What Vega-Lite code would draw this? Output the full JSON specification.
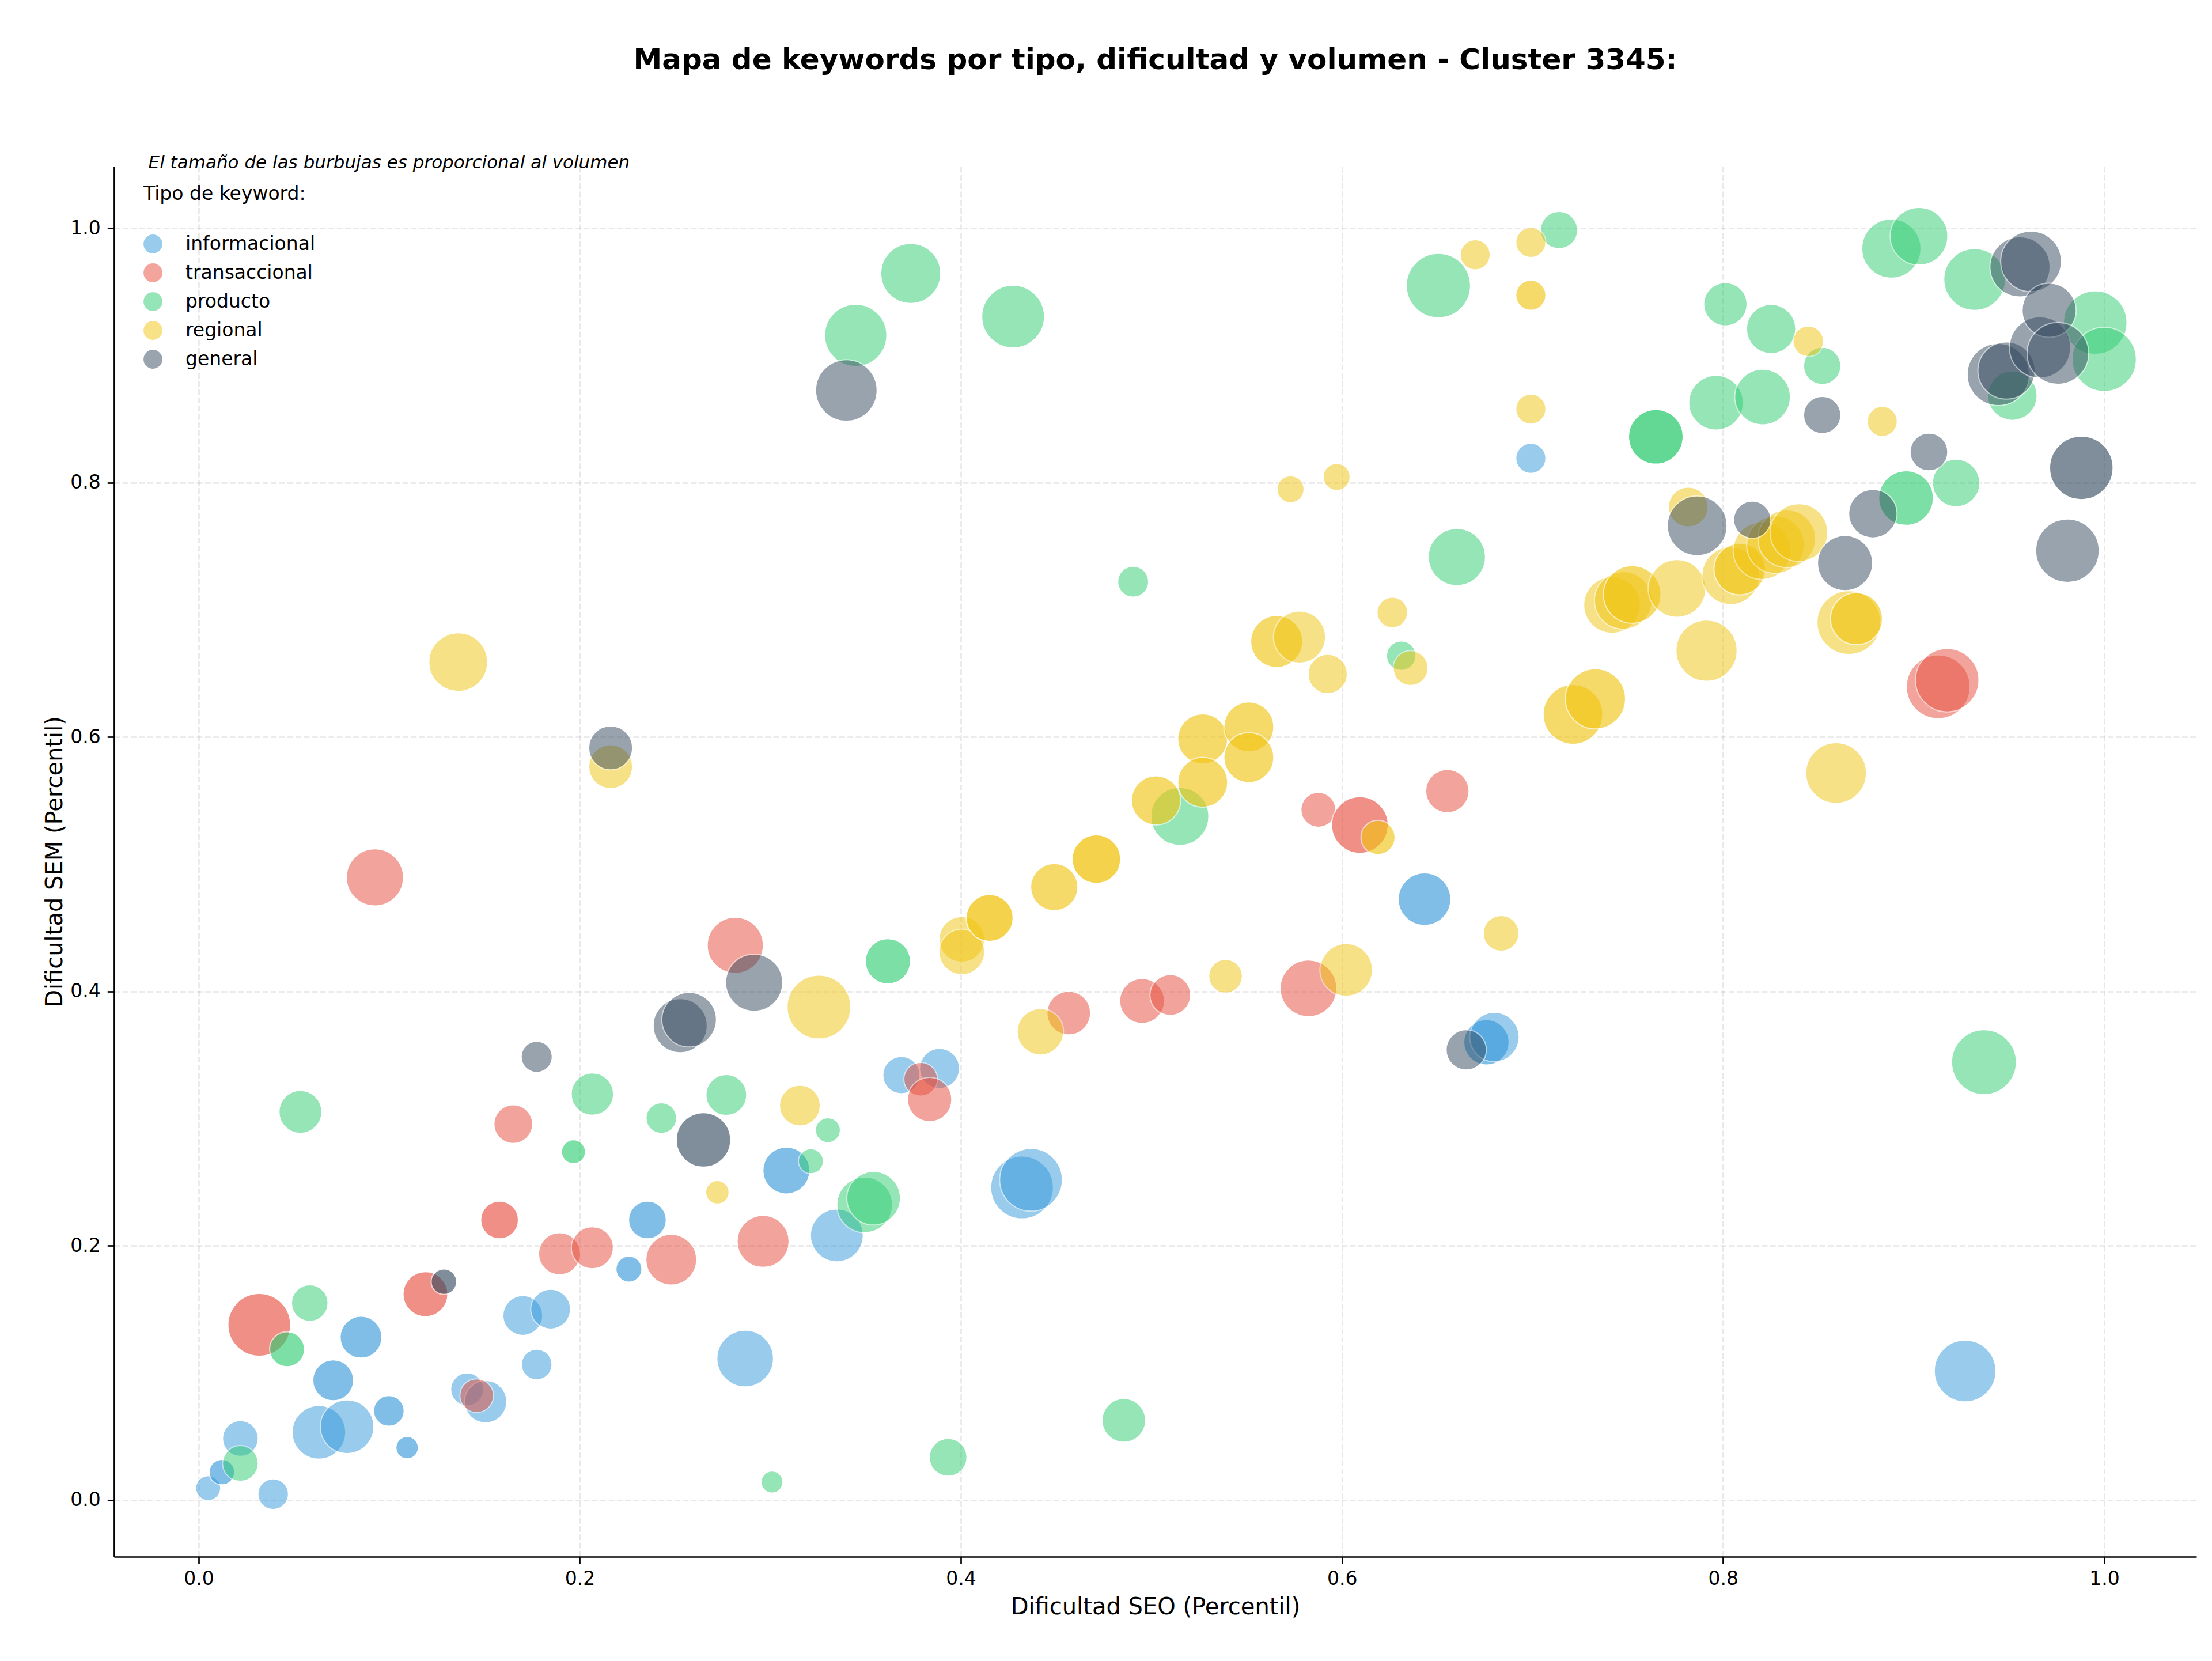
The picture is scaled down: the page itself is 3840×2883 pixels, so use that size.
{
  "$schema": "https://vega.github.io/schema/vega-lite/v6.json",
  "width": 3615,
  "height": 2413,
  "autosize": {"type": "none"},
  "padding": {"left": 198, "top": 289, "right": 27, "bottom": 181},
  "background": "white",
  "title": {
    "text": "Mapa de keywords por tipo, dificultad y volumen - Cluster 3345:",
    "font": "DejaVu Sans", "fontSize": 50, "fontWeight": "bold", "color": "#000000",
    "anchor": "middle", "baseline": "alphabetic", "offset": 97
  },
  "config": {
    "view": {"stroke": null},
    "axis": {
      "domainColor": "#000000", "domainWidth": 2.7,
      "tickColor": "#000000", "tickWidth": 2.7, "tickSize": 11.7,
      "labelFont": "DejaVu Sans", "labelFontSize": 33, "labelColor": "#000000", "labelPadding": 11,
      "labelFlush": false, "labelOverlap": false,
      "titleFont": "DejaVu Sans", "titleFontSize": 40, "titleFontWeight": "normal", "titleColor": "#000000",
      "grid": true, "gridColor": "#b0b0b0", "gridOpacity": 0.3, "gridDash": [10, 4.3], "gridWidth": 2.7
    },
    "axisX": {"titlePadding": 12},
    "axisY": {"titlePadding": 6, "labelPadding": 12}
  },
  "layer": [
    {
      "data": {"values": [
        {"seo":0.005,"sem":0.0095,"tipo":"informacional","vol":157,"n":1},
        {"seo":0.0122,"sem":0.0221,"tipo":"informacional","vol":164,"n":2},
        {"seo":0.0219,"sem":0.0486,"tipo":"informacional","vol":321,"n":1},
        {"seo":0.0391,"sem":0.0048,"tipo":"informacional","vol":236,"n":1},
        {"seo":0.0631,"sem":0.0534,"tipo":"informacional","vol":722,"n":1},
        {"seo":0.0779,"sem":0.0578,"tipo":"informacional","vol":722,"n":1},
        {"seo":0.0706,"sem":0.0943,"tipo":"informacional","vol":419,"n":2},
        {"seo":0.0852,"sem":0.1282,"tipo":"informacional","vol":440,"n":2},
        {"seo":0.0998,"sem":0.0702,"tipo":"informacional","vol":236,"n":2},
        {"seo":0.1094,"sem":0.0413,"tipo":"informacional","vol":127,"n":2},
        {"seo":0.1409,"sem":0.0872,"tipo":"informacional","vol":273,"n":1},
        {"seo":0.1506,"sem":0.0775,"tipo":"informacional","vol":451,"n":1},
        {"seo":0.1701,"sem":0.1452,"tipo":"informacional","vol":398,"n":1},
        {"seo":0.1847,"sem":0.1502,"tipo":"informacional","vol":398,"n":1},
        {"seo":0.1774,"sem":0.1067,"tipo":"informacional","vol":236,"n":1},
        {"seo":0.2258,"sem":0.1817,"tipo":"informacional","vol":170,"n":2},
        {"seo":0.2355,"sem":0.2203,"tipo":"informacional","vol":358,"n":2},
        {"seo":0.2868,"sem":0.1114,"tipo":"informacional","vol":806,"n":1},
        {"seo":0.3084,"sem":0.2592,"tipo":"informacional","vol":554,"n":2},
        {"seo":0.3349,"sem":0.2082,"tipo":"informacional","vol":701,"n":1},
        {"seo":0.3688,"sem":0.3342,"tipo":"informacional","vol":349,"n":1},
        {"seo":0.3888,"sem":0.3394,"tipo":"informacional","vol":404,"n":1},
        {"seo":0.4321,"sem":0.2459,"tipo":"informacional","vol":990,"n":1},
        {"seo":0.4368,"sem":0.2519,"tipo":"informacional","vol":990,"n":1},
        {"seo":0.6433,"sem":0.4725,"tipo":"informacional","vol":694,"n":2},
        {"seo":0.6758,"sem":0.360,"tipo":"informacional","vol":518,"n":2},
        {"seo":0.680,"sem":0.3641,"tipo":"informacional","vol":616,"n":1},
        {"seo":0.6991,"sem":0.8191,"tipo":"informacional","vol":228,"n":1},
        {"seo":0.927,"sem":0.1016,"tipo":"informacional","vol":958,"n":1},

        {"seo":0.0318,"sem":0.1379,"tipo":"transaccional","vol":990,"n":2},
        {"seo":0.1190,"sem":0.1620,"tipo":"transaccional","vol":507,"n":2},
        {"seo":0.1579,"sem":0.2203,"tipo":"transaccional","vol":358,"n":2},
        {"seo":0.1651,"sem":0.2957,"tipo":"transaccional","vol":378,"n":1},
        {"seo":0.1459,"sem":0.0822,"tipo":"transaccional","vol":285,"n":1},
        {"seo":0.1894,"sem":0.1938,"tipo":"transaccional","vol":445,"n":1},
        {"seo":0.2066,"sem":0.1985,"tipo":"transaccional","vol":445,"n":1},
        {"seo":0.2480,"sem":0.1891,"tipo":"transaccional","vol":649,"n":1},
        {"seo":0.2962,"sem":0.2035,"tipo":"transaccional","vol":681,"n":1},
        {"seo":0.0925,"sem":0.4896,"tipo":"transaccional","vol":821,"n":1},
        {"seo":0.2816,"sem":0.4363,"tipo":"transaccional","vol":792,"n":1},
        {"seo":0.3789,"sem":0.3310,"tipo":"transaccional","vol":285,"n":1},
        {"seo":0.3836,"sem":0.315,"tipo":"transaccional","vol":495,"n":1},
        {"seo":0.4566,"sem":0.3830,"tipo":"transaccional","vol":480,"n":1},
        {"seo":0.4951,"sem":0.3925,"tipo":"transaccional","vol":507,"n":1},
        {"seo":0.5099,"sem":0.3972,"tipo":"transaccional","vol":419,"n":1},
        {"seo":0.5824,"sem":0.4024,"tipo":"transaccional","vol":806,"n":1},
        {"seo":0.5876,"sem":0.5428,"tipo":"transaccional","vol":307,"n":1},
        {"seo":0.6094,"sem":0.5308,"tipo":"transaccional","vol":806,"n":2},
        {"seo":0.6553,"sem":0.5575,"tipo":"transaccional","vol":473,"n":1},
        {"seo":0.9129,"sem":0.6395,"tipo":"transaccional","vol":1023,"n":1},
        {"seo":0.9176,"sem":0.6447,"tipo":"transaccional","vol":1014,"n":1},

        {"seo":0.0219,"sem":0.0290,"tipo":"producto","vol":321,"n":1},
        {"seo":0.0464,"sem":0.1187,"tipo":"producto","vol":307,"n":2},
        {"seo":0.0583,"sem":0.1550,"tipo":"producto","vol":336,"n":1},
        {"seo":0.0534,"sem":0.3053,"tipo":"producto","vol":462,"n":1},
        {"seo":0.1967,"sem":0.2739,"tipo":"producto","vol":145,"n":2},
        {"seo":0.2066,"sem":0.3193,"tipo":"producto","vol":451,"n":1},
        {"seo":0.2428,"sem":0.3004,"tipo":"producto","vol":236,"n":1},
        {"seo":0.2769,"sem":0.3186,"tipo":"producto","vol":419,"n":1},
        {"seo":0.3009,"sem":0.0143,"tipo":"producto","vol":121,"n":1},
        {"seo":0.3213,"sem":0.2665,"tipo":"producto","vol":157,"n":1},
        {"seo":0.3302,"sem":0.2909,"tipo":"producto","vol":157,"n":1},
        {"seo":0.3495,"sem":0.2322,"tipo":"producto","vol":778,"n":1},
        {"seo":0.3542,"sem":0.2374,"tipo":"producto","vol":722,"n":1},
        {"seo":0.3617,"sem":0.4237,"tipo":"producto","vol":515,"n":2},
        {"seo":0.3933,"sem":0.0337,"tipo":"producto","vol":358,"n":1},
        {"seo":0.4855,"sem":0.0628,"tipo":"producto","vol":480,"n":1},
        {"seo":0.3448,"sem":0.9158,"tipo":"producto","vol":974,"n":1},
        {"seo":0.3737,"sem":0.9644,"tipo":"producto","vol":904,"n":1},
        {"seo":0.4274,"sem":0.9305,"tipo":"producto","vol":990,"n":1},
        {"seo":0.4904,"sem":0.7221,"tipo":"producto","vol":241,"n":1},
        {"seo":0.5149,"sem":0.5376,"tipo":"producto","vol":845,"n":1},
        {"seo":0.6311,"sem":0.6639,"tipo":"producto","vol":220,"n":1},
        {"seo":0.6506,"sem":0.9549,"tipo":"producto","vol":1039,"n":1},
        {"seo":0.6603,"sem":0.7415,"tipo":"producto","vol":821,"n":1},
        {"seo":0.7139,"sem":0.9985,"tipo":"producto","vol":349,"n":1},
        {"seo":0.7647,"sem":0.8360,"tipo":"producto","vol":749,"n":3},
        {"seo":0.7963,"sem":0.8628,"tipo":"producto","vol":749,"n":1},
        {"seo":0.8012,"sem":0.9402,"tipo":"producto","vol":473,"n":1},
        {"seo":0.8207,"sem":0.8673,"tipo":"producto","vol":778,"n":1},
        {"seo":0.8252,"sem":0.9208,"tipo":"producto","vol":610,"n":1},
        {"seo":0.8520,"sem":0.8917,"tipo":"producto","vol":349,"n":1},
        {"seo":0.8883,"sem":0.9840,"tipo":"producto","vol":881,"n":1},
        {"seo":0.9028,"sem":0.9937,"tipo":"producto","vol":836,"n":1},
        {"seo":0.9320,"sem":0.9597,"tipo":"producto","vol":958,"n":1},
        {"seo":0.8960,"sem":0.7879,"tipo":"producto","vol":749,"n":2},
        {"seo":0.9223,"sem":0.7997,"tipo":"producto","vol":566,"n":1},
        {"seo":0.9518,"sem":0.8684,"tipo":"producto","vol":616,"n":1},
        {"seo":0.9953,"sem":0.9258,"tipo":"producto","vol":1014,"n":1},
        {"seo":1.0,"sem":0.8969,"tipo":"producto","vol":1039,"n":1},
        {"seo":0.9369,"sem":0.3444,"tipo":"producto","vol":1056,"n":1},

        {"seo":0.1362,"sem":0.6589,"tipo":"regional","vol":866,"n":1},
        {"seo":0.2162,"sem":0.5767,"tipo":"regional","vol":484,"n":1},
        {"seo":0.2722,"sem":0.2421,"tipo":"regional","vol":139,"n":1},
        {"seo":0.3155,"sem":0.3103,"tipo":"regional","vol":419,"n":1},
        {"seo":0.3255,"sem":0.3877,"tipo":"regional","vol":1023,"n":1},
        {"seo":0.4005,"sem":0.4410,"tipo":"regional","vol":524,"n":1},
        {"seo":0.4005,"sem":0.4311,"tipo":"regional","vol":524,"n":1},
        {"seo":0.4151,"sem":0.4578,"tipo":"regional","vol":554,"n":3},
        {"seo":0.4417,"sem":0.3683,"tipo":"regional","vol":542,"n":1},
        {"seo":0.4490,"sem":0.4820,"tipo":"regional","vol":561,"n":2},
        {"seo":0.4711,"sem":0.5040,"tipo":"regional","vol":591,"n":3},
        {"seo":0.5024,"sem":0.5502,"tipo":"regional","vol":610,"n":2},
        {"seo":0.5269,"sem":0.5985,"tipo":"regional","vol":629,"n":2},
        {"seo":0.5511,"sem":0.6080,"tipo":"regional","vol":629,"n":2},
        {"seo":0.5511,"sem":0.5838,"tipo":"regional","vol":629,"n":2},
        {"seo":0.5269,"sem":0.5644,"tipo":"regional","vol":629,"n":2},
        {"seo":0.5389,"sem":0.4119,"tipo":"regional","vol":285,"n":1},
        {"seo":0.5657,"sem":0.6751,"tipo":"regional","vol":681,"n":2},
        {"seo":0.5777,"sem":0.6786,"tipo":"regional","vol":681,"n":1},
        {"seo":0.5925,"sem":0.6495,"tipo":"regional","vol":388,"n":1},
        {"seo":0.6022,"sem":0.4169,"tipo":"regional","vol":694,"n":1},
        {"seo":0.6189,"sem":0.5211,"tipo":"regional","vol":294,"n":2},
        {"seo":0.6264,"sem":0.6979,"tipo":"regional","vol":236,"n":1},
        {"seo":0.6360,"sem":0.6542,"tipo":"regional","vol":307,"n":1},
        {"seo":0.5730,"sem":0.7948,"tipo":"regional","vol":184,"n":1},
        {"seo":0.5972,"sem":0.8045,"tipo":"regional","vol":184,"n":1},
        {"seo":0.6699,"sem":0.9791,"tipo":"regional","vol":228,"n":1},
        {"seo":0.6835,"sem":0.4457,"tipo":"regional","vol":321,"n":1},
        {"seo":0.6991,"sem":0.9888,"tipo":"regional","vol":228,"n":1},
        {"seo":0.6991,"sem":0.9473,"tipo":"regional","vol":228,"n":2},
        {"seo":0.6991,"sem":0.8578,"tipo":"regional","vol":228,"n":1},
        {"seo":0.7212,"sem":0.6177,"tipo":"regional","vol":896,"n":2},
        {"seo":0.7330,"sem":0.6300,"tipo":"regional","vol":911,"n":2},
        {"seo":0.7417,"sem":0.7038,"tipo":"regional","vol":806,"n":1},
        {"seo":0.7476,"sem":0.7074,"tipo":"regional","vol":836,"n":1},
        {"seo":0.7523,"sem":0.7121,"tipo":"regional","vol":836,"n":2},
        {"seo":0.7758,"sem":0.7168,"tipo":"regional","vol":836,"n":1},
        {"seo":0.7817,"sem":0.7808,"tipo":"regional","vol":398,"n":1},
        {"seo":0.7913,"sem":0.6679,"tipo":"regional","vol":942,"n":1},
        {"seo":0.8040,"sem":0.7268,"tipo":"regional","vol":836,"n":1},
        {"seo":0.8087,"sem":0.7320,"tipo":"regional","vol":668,"n":2},
        {"seo":0.8204,"sem":0.7465,"tipo":"regional","vol":836,"n":1},
        {"seo":0.8275,"sem":0.7512,"tipo":"regional","vol":836,"n":1},
        {"seo":0.8334,"sem":0.7559,"tipo":"regional","vol":836,"n":1},
        {"seo":0.8398,"sem":0.7607,"tipo":"regional","vol":836,"n":1},
        {"seo":0.8447,"sem":0.9111,"tipo":"regional","vol":236,"n":1},
        {"seo":0.8835,"sem":0.8481,"tipo":"regional","vol":228,"n":1},
        {"seo":0.8593,"sem":0.5717,"tipo":"regional","vol":927,"n":1},
        {"seo":0.8660,"sem":0.6900,"tipo":"regional","vol":1023,"n":1},
        {"seo":0.8700,"sem":0.6930,"tipo":"regional","vol":681,"n":2},

        {"seo":0.1287,"sem":0.1718,"tipo":"general","vol":164,"n":2},
        {"seo":0.1774,"sem":0.3486,"tipo":"general","vol":244,"n":1},
        {"seo":0.2162,"sem":0.5914,"tipo":"general","vol":484,"n":1},
        {"seo":0.2527,"sem":0.3731,"tipo":"general","vol":735,"n":1},
        {"seo":0.2574,"sem":0.3778,"tipo":"general","vol":749,"n":1},
        {"seo":0.2649,"sem":0.2833,"tipo":"general","vol":744,"n":2},
        {"seo":0.2915,"sem":0.4069,"tipo":"general","vol":821,"n":1},
        {"seo":0.3399,"sem":0.8725,"tipo":"general","vol":952,"n":1},
        {"seo":0.6652,"sem":0.3541,"tipo":"general","vol":408,"n":1},
        {"seo":0.7864,"sem":0.7661,"tipo":"general","vol":896,"n":1},
        {"seo":0.8153,"sem":0.7708,"tipo":"general","vol":349,"n":1},
        {"seo":0.8520,"sem":0.8531,"tipo":"general","vol":349,"n":1},
        {"seo":0.8640,"sem":0.7367,"tipo":"general","vol":763,"n":1},
        {"seo":0.8786,"sem":0.7756,"tipo":"general","vol":591,"n":1},
        {"seo":0.9080,"sem":0.8241,"tipo":"general","vol":358,"n":1},
        {"seo":0.9444,"sem":0.8850,"tipo":"general","vol":974,"n":1},
        {"seo":0.9487,"sem":0.8881,"tipo":"general","vol":821,"n":1},
        {"seo":0.9558,"sem":0.9696,"tipo":"general","vol":911,"n":1},
        {"seo":0.9616,"sem":0.9739,"tipo":"general","vol":927,"n":1},
        {"seo":0.9663,"sem":0.9063,"tipo":"general","vol":942,"n":1},
        {"seo":0.9711,"sem":0.9355,"tipo":"general","vol":735,"n":1},
        {"seo":0.9757,"sem":0.9016,"tipo":"general","vol":958,"n":1},
        {"seo":0.9880,"sem":0.8116,"tipo":"general","vol":1014,"n":2},
        {"seo":0.9807,"sem":0.7465,"tipo":"general","vol":1014,"n":1}
      ]},
      "mark": {"type": "circle", "stroke": "white", "strokeWidth": 2},
      "encoding": {
        "x": {"field": "seo", "type": "quantitative", "title": "Dificultad SEO (Percentil)",
              "scale": {"domain": [-0.0444, 1.0484], "nice": false, "zero": false},
              "axis": {"values": [0, 0.2, 0.4, 0.6, 0.8, 1.0], "format": ".1f"}},
        "y": {"field": "sem", "type": "quantitative", "title": "Dificultad SEM (Percentil)",
              "scale": {"domain": [-0.0444, 1.0485], "nice": false, "zero": false},
              "axis": {"values": [0, 0.2, 0.4, 0.6, 0.8, 1.0], "format": ".1f"}},
        "color": {"field": "tipo", "type": "nominal",
                  "scale": {"domain": ["informacional", "transaccional", "producto", "regional", "general"],
                            "range": ["#3498db", "#e74c3c", "#2ecc71", "#f1c40f", "#34495e"]},
                  "legend": {"orient": "none", "legendX": 51, "legendY": 32,
                             "title": "Tipo de keyword:", "titleFont": "DejaVu Sans", "titleFontSize": 33,
                             "titleFontWeight": "normal", "titleColor": "#000000", "titlePadding": 53,
                             "titleLimit": 2000, "labelLimit": 2000,
                             "labelFont": "DejaVu Sans", "labelFontSize": 33, "labelColor": "#000000",
                             "labelOffset": 40, "symbolType": "circle", "symbolSize": 1075,
                             "symbolOpacity": 0.5, "symbolStrokeWidth": 0, "rowPadding": 16}},
        "size": {"field": "vol", "type": "quantitative",
                 "scale": {"type": "linear", "domain": [0, 1100], "range": [0, 13200], "nice": false},
                 "legend": null},
        "opacity": {"field": "n", "type": "ordinal",
                    "scale": {"domain": [1, 2, 3], "range": [0.5, 0.75, 0.94]}, "legend": null}
      }
    },
    {
      "data": {"values": [{"nota": "El tamaño de las burbujas es proporcional al volumen"}]},
      "mark": {"type": "text", "font": "DejaVu Sans", "fontStyle": "italic", "fontSize": 31,
               "align": "left", "baseline": "alphabetic", "color": "#000000"},
      "encoding": {
        "x": {"datum": -0.0264, "type": "quantitative", "title": "Dificultad SEO (Percentil)"},
        "y": {"datum": 1.0472, "type": "quantitative", "title": "Dificultad SEM (Percentil)"},
        "text": {"field": "nota"}
      }
    }
  ]
}
